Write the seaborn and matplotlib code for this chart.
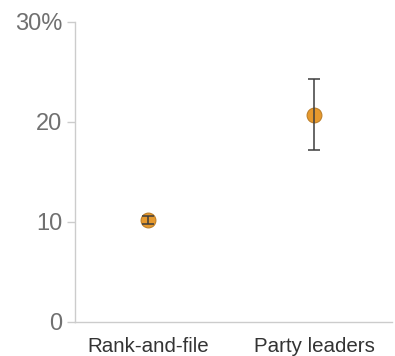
import matplotlib
matplotlib.use("Agg")
import matplotlib.pyplot as plt
import seaborn as sns
import pandas as pd

# Share of each group, with the ends of its uncertainty interval
groups = ["Rank-and-file", "Party leaders"]
share = [10.2, 20.7]
low = [9.8, 17.2]
high = [10.6, 24.3]
y_ticks = [0, 10, 20, 30]
y_labels = ["0", "10", "20", "30%"]

df = pd.DataFrame({"group": groups, "share": share, "low": low, "high": high})

sns.set_theme(style="white")
plt.rcParams["font.family"] = ["Liberation Sans", "DejaVu Sans"]

fig = plt.figure(figsize=(3.95, 3.56), dpi=100)
ax = fig.add_axes([75 / 395, 1 - 322 / 356, (392 - 75) / 395, 300 / 356])

orange = "#E6992E"
sns.scatterplot(data=df, x="group", y="share", ax=ax, s=115, color=orange,
                edgecolor="#B87A24", linewidth=0.7, zorder=2)
ax.errorbar(df["group"], df["share"],
            yerr=[df["share"] - df["low"], df["high"] - df["share"]],
            fmt="none", ecolor="#3d3d3d", elinewidth=1.1, capsize=4,
            capthick=1.1, zorder=3)

ax.set_xlim(-0.44, 1.47)
ax.set_ylim(0, 30)
ax.set_yticks(y_ticks)
ax.set_yticklabels(y_labels)
ax.set_xlabel("")
ax.set_ylabel("")

for side in ["top", "right"]:
    ax.spines[side].set_visible(False)
for side in ["left", "bottom"]:
    ax.spines[side].set_color("#cccccc")
    ax.spines[side].set_linewidth(1.0)

ax.tick_params(axis="y", left=True, length=6, width=1.0, color="#cccccc",
               labelsize=17, labelcolor="#707070", pad=3)
ax.tick_params(axis="x", bottom=False, labelsize=14.8, labelcolor="#333333",
               pad=5)

fig.savefig("out.png", dpi=100, facecolor="white")
